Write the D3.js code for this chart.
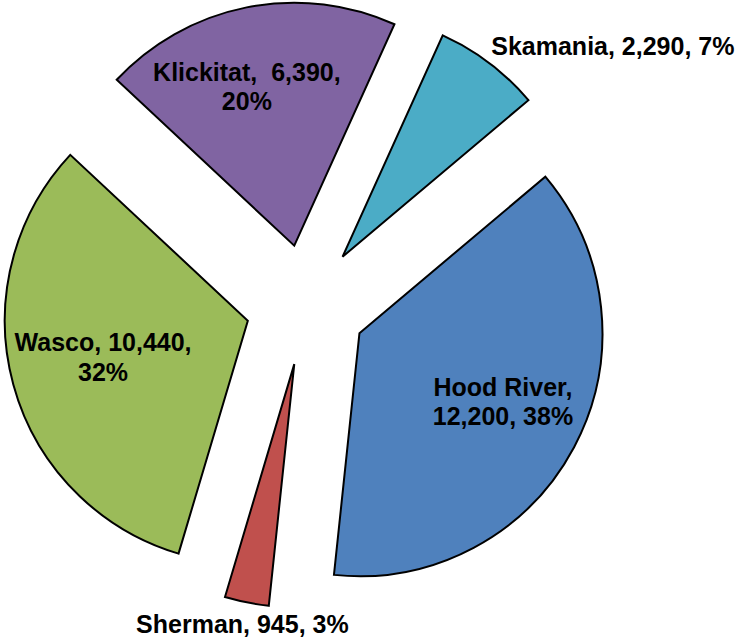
<!DOCTYPE html>
<html>
<head>
<meta charset="utf-8">
<script src="https://cdn.jsdelivr.net/npm/d3@7"></script>
<style>
  html, body { margin: 0; padding: 0; background: #fff; }
  svg { display: block; }
  text { font-family: "Liberation Sans", Arial, sans-serif; font-weight: bold; fill: #000; white-space: pre; }
</style>
</head>
<body>
<svg id="chart" width="742" height="641"></svg>
<script>
// ---- data ----
const categories = ["Hood River", "Sherman", "Wasco", "Klickitat", "Skamania"];
const values = [12200, 945, 10440, 6390, 2290];
const colors = ["#4F81BD", "#C0504D", "#9BBB59", "#8064A2", "#4BACC6"];

// ---- layout ----
const W = 742, H = 641;
const cx = 306.1, cy = 304.9;
const R = 243;
const explode = 60.4;
const deg = Math.PI / 180;
const start = 49.9 * deg;

const svg = d3.select("#chart");
const total = d3.sum(values);
const data = categories.map((c, i) => ({ name: c, value: values[i], color: colors[i] }));

const pie = d3.pie().value(d => d.value).sort(null)
  .startAngle(start).endAngle(start + 2 * Math.PI);
const arcs = pie(data);
const arc = d3.arc().innerRadius(0).outerRadius(R);

const fmt = d3.format(",");
const pct = v => Math.round(v / total * 100) + "%";

const g = svg.append("g").attr("transform", `translate(${cx},${cy})`);

function offset(a, r) {
  const m = (a.startAngle + a.endAngle) / 2;
  return [r * Math.sin(m), -r * Math.cos(m)];
}

g.selectAll("path.slice").data(arcs).enter().append("path")
  .attr("class", "slice")
  .attr("d", arc)
  .attr("transform", d => { const o = offset(d, explode); return `translate(${o[0]},${o[1]})`; })
  .attr("fill", d => d.data.color)
  .attr("stroke", "#000")
  .attr("stroke-width", 2)
  .attr("stroke-linejoin", "miter");

// label config (layout only)
const labelCfg = {
  "Hood River": { mode: "in", r: 150, dx: 11, dy: -2, lines: d => [d.name + ",", fmt(d.value) + ", " + pct(d.value)] },
  "Sherman":    { mode: "out", r: R + 22, dx: 0, dy: 0, lines: d => [d.name + ", " + fmt(d.value) + ", " + pct(d.value)] },
  "Wasco":      { mode: "in", r: 150, dx: 0, dy: -3, lines: d => [d.name + ", " + fmt(d.value) + ",", pct(d.value)] },
  "Klickitat":  { mode: "in", r: 150, dx: -18, dy: -12, lines: d => [d.name + ",  " + fmt(d.value) + ",", pct(d.value)] },
  "Skamania":   { mode: "outStart", r: R + 10, dx: -4, dy: 0, lines: d => [d.name + ", " + fmt(d.value) + ", " + pct(d.value)] }
};

const fs = 25, lh = 29.5, capH = 18;

arcs.forEach(a => {
  const cfg = labelCfg[a.data.name];
  const e = offset(a, explode);
  const p = offset(a, cfg.r);
  const x = e[0] + p[0] + cfg.dx;
  const y = e[1] + p[1] + cfg.dy;
  const lines = cfg.lines(a.data);
  const t = g.append("text").attr("font-size", fs);
  if (cfg.mode === "in") {
    t.attr("text-anchor", "middle");
    const n = lines.length;
    lines.forEach((ln, i) => {
      t.append("tspan").attr("x", x)
        .attr("y", y + (i - (n - 1) / 2) * lh + capH / 2)
        .text(ln);
    });
  } else if (cfg.mode === "out") {
    t.attr("text-anchor", "middle").attr("x", x).attr("y", y + capH / 2).text(lines[0]);
  } else {
    t.attr("text-anchor", "start").attr("x", x).attr("y", y).text(lines[0]);
  }
});
</script>
</body>
</html>
